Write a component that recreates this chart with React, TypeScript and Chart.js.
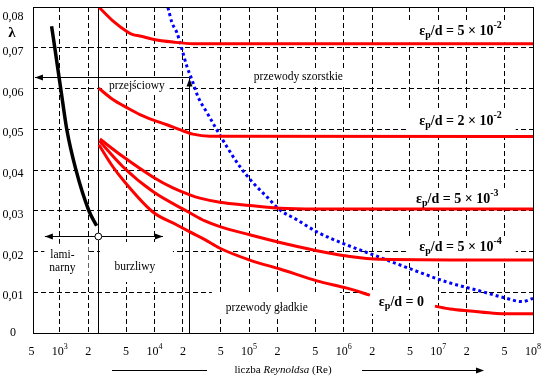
import React, { useEffect, useRef } from "react";
import { Chart, registerables } from "chart.js";

Chart.register(...registerables);

// ---------- axis ticks ----------
const xTickValues = [500, 1e3, 2e3, 5e3, 1e4, 2e4, 5e4, 1e5, 2e5, 5e5, 1e6, 2e6, 5e6, 1e7, 2e7, 5e7, 1e8];
const xTickLabels = ["5", "10^3", "2", "5", "10^4", "2", "5", "10^5", "2", "5", "10^6", "2", "5", "10^7", "2", "5", "10^8"];
const yTickValues = [0, 0.01, 0.02, 0.03, 0.04, 0.05, 0.06, 0.07, 0.08];
const yTickLabels = ["0", "0,01", "0,02", "0,03", "0,04", "0,05", "0,06", "0,07", "0,08"];

// ---------- series (Re, lambda) ----------
const laminarRe = [817, 886, 1025, 1186, 1476, 2026, 2444];
const laminarLambda = [0.0753, 0.0698, 0.0597, 0.0498, 0.0401, 0.03, 0.0263];

const eps5e2Re = [2580, 3630, 5100, 5920, 7000, 9600, 15700, 25500, 1e8];
const eps5e2Lambda = [0.08, 0.0766, 0.074, 0.0732, 0.0729, 0.0721, 0.0714, 0.071, 0.071];

const eps2e2Re = [2564, 3631, 5105, 7015, 9617, 13520, 18530, 25470, 38520, 1e8];
const eps2e2Lambda = [0.0601, 0.0573, 0.0553, 0.0536, 0.0523, 0.0511, 0.0499, 0.0488, 0.0483, 0.0482];

const eps5e3Re = [2650, 4634, 9617, 15660, 23650, 30200, 49100, 101800, 211600, 521000, 1e8];
const eps5e3Lambda = [0.0476, 0.0433, 0.0383, 0.0356, 0.0339, 0.0331, 0.0321, 0.0313, 0.0306, 0.0304, 0.0304];

const eps5e4Re = [2615, 4634, 9617, 23650, 34100, 49100, 101800, 211600, 521000, 1081000, 2415000, 1e8];
const eps5e4Lambda = [0.0471, 0.0408, 0.0347, 0.0295, 0.0275, 0.0261, 0.0241, 0.0222, 0.0202, 0.0189, 0.0181, 0.0179];

const smoothReA = [2583, 3631, 4634, 9617, 17260, 23650, 34100, 49100, 101800, 211600, 521000, 1081000, 1892000];
const smoothLambdaA = [0.0462, 0.0408, 0.0376, 0.0297, 0.0265, 0.0248, 0.0229, 0.0208, 0.0179, 0.0157, 0.0128, 0.011, 0.0093];
const smoothReB = [9.2e6, 1.33e7, 2.16e7, 4.16e7, 1e8];
const smoothLambdaB = [0.0066, 0.0059, 0.0054, 0.0048, 0.0047];

const boundaryRe = [13860, 15280, 17260, 19500, 22000, 24840, 28770, 35800, 46800, 58200, 80000, 109700, 154200, 211600, 320000, 521000, 1081000, 2036000, 5387000, 12330000, 27540000, 50600000, 76560000, 1e8];
const boundaryLambda = [0.0799, 0.0762, 0.0737, 0.0696, 0.0654, 0.0622, 0.058, 0.0541, 0.0494, 0.0457, 0.0408, 0.0369, 0.0334, 0.0302, 0.0278, 0.0248, 0.0216, 0.0192, 0.0155, 0.0125, 0.0103, 0.0086, 0.0077, 0.0085];

// ---------- labels ----------
const epsMantissas = ["5", "2", "5", "5", "0"];
const epsExponents = ["-2", "-2", "-3", "-4", ""];
const regionTexts = ["przejściowy", "przewody szorstkie", "przewody gładkie", "lami-", "narny", "burzliwy"];

// annotation anchors (data coordinates)
const RE_CRIT = 2550;
const RE_TRANS = 23300;
const LAMBDA_ARROW = 0.0629;
const RE_ARROW_LEFT = 545;
const LAMBDA_REGIME = 0.0237;
const RE_REGIME_LEFT = 694;
const RE_REGIME_RIGHT = 12280;
const regionAnchorRe = [6517, 331700, 154000, 1063, 1063, 6210];
const regionAnchorLambda = [0.0607, 0.0629, 0.00614, 0.0192, 0.016, 0.0162];
const epsAnchorRe = [1.712e7, 1.712e7, 1.585e7, 1.712e7, 4.07e6];
const epsAnchorLambda = [0.074, 0.0519, 0.0329, 0.0209, 0.0076];

const SERIF = "'Liberation Serif', 'Times New Roman', Times, serif";
const RED = "#ff0000";

const pts = (xs: number[], ys: number[]) => xs.map((x, i) => ({ x, y: ys[i] }));

type Part = { t: string; f: string; dy: number };

function partsWidth(ctx: CanvasRenderingContext2D, parts: Part[]) {
  let w = 0;
  for (const p of parts) {
    ctx.font = p.f;
    w += ctx.measureText(p.t).width;
  }
  return w;
}

function drawParts(ctx: CanvasRenderingContext2D, parts: Part[], cx: number, cy: number) {
  const w = partsWidth(ctx, parts);
  let x = cx - w / 2;
  ctx.textAlign = "left";
  ctx.textBaseline = "middle";
  for (const p of parts) {
    ctx.font = p.f;
    ctx.fillText(p.t, x, cy + p.dy);
    x += ctx.measureText(p.t).width;
  }
  return w;
}

function epsParts(m: string, e: string): Part[] {
  const big = `bold 14px ${SERIF}`;
  const small = `bold 10px ${SERIF}`;
  const parts: Part[] = [
    { t: "ε", f: big, dy: 0 },
    { t: "p", f: small, dy: 4 },
  ];
  if (e) {
    parts.push({ t: "/d = " + m + " × 10", f: big, dy: 0 });
    parts.push({ t: e, f: small, dy: -6 });
  } else {
    parts.push({ t: "/d = " + m, f: big, dy: 0 });
  }
  return parts;
}

function head(ctx: CanvasRenderingContext2D, x: number, y: number, dx: number, dy: number, len = 8, half = 3) {
  const px = -dy, py = dx;
  ctx.beginPath();
  ctx.moveTo(x, y);
  ctx.lineTo(x - dx * len + px * half, y - dy * len + py * half);
  ctx.lineTo(x - dx * len - px * half, y - dy * len - py * half);
  ctx.closePath();
  ctx.fill();
}

const al = (v: number) => Math.round(v) + 0.5;

const annotationPlugin = {
  id: "moodyAnnotations",
  beforeDatasetsDraw(chart: any) {
    const { ctx, chartArea: ca, scales } = chart;
    const X = (v: number) => scales.x.getPixelForValue(v);
    const Y = (v: number) => scales.y.getPixelForValue(v);
    const fText = `11.5px ${SERIF}`;
    ctx.save();

    // white boxes behind labels
    ctx.fillStyle = "#fff";
    ctx.font = fText;
    const rc = regionTexts.map((t, i) => ({ t, x: X(regionAnchorRe[i]), y: Y(regionAnchorLambda[i]), w: ctx.measureText(t).width }));
    ctx.fillRect(rc[0].x - rc[0].w / 2 - 5, rc[0].y - 7, rc[0].w + 10, 14);
    ctx.fillRect(rc[1].x - rc[1].w / 2 - 5, rc[1].y - 8, rc[1].w + 10, 16);
    ctx.fillRect(rc[2].x - 55, rc[2].y - 16, 128, 26);
    ctx.fillRect(rc[3].x - 18, rc[3].y - 11, 44, 35);
    ctx.fillRect(rc[5].x - 35, rc[5].y - 25, 73, 40);
    const epsInfo = epsMantissas.map((m, i) => {
      const parts = epsParts(m, epsExponents[i]);
      return { parts, x: X(epsAnchorRe[i]), y: Y(epsAnchorLambda[i]), w: partsWidth(ctx, parts) };
    });
    ctx.fillStyle = "#fff";
    epsInfo.forEach((e, i) => {
      const h = i === 4 ? 24 : 22;
      ctx.fillRect(e.x - e.w / 2 - 13, e.y - h / 2, e.w + 27, h);
    });

    // solid lines & arrows
    ctx.strokeStyle = "#000";
    ctx.fillStyle = "#000";
    ctx.lineWidth = 1;
    ctx.setLineDash([]);
    const xc = al(X(RE_CRIT));
    ctx.beginPath();
    ctx.moveTo(xc, ca.top);
    ctx.lineTo(xc, ca.bottom);
    ctx.stroke();

    const xt = al(X(RE_TRANS));
    const ya = al(Y(LAMBDA_ARROW));
    const xl = X(RE_ARROW_LEFT);
    ctx.beginPath();
    ctx.moveTo(xt, ca.bottom);
    ctx.lineTo(xt, ya);
    ctx.moveTo(xt, ya);
    ctx.lineTo(xl, ya);
    ctx.stroke();
    head(ctx, xt, ya + 1, 0, -1, 8, 3);
    head(ctx, xl, ya, -1, 0, 8, 3);

    const yr = al(Y(LAMBDA_REGIME));
    const xr1 = X(RE_REGIME_LEFT);
    const xr2 = X(RE_REGIME_RIGHT);
    ctx.beginPath();
    ctx.moveTo(xr1, yr);
    ctx.lineTo(xr2, yr);
    ctx.stroke();
    head(ctx, xr1, yr, -1, 0, 8, 3);
    head(ctx, xr2, yr, 1, 0, 8, 3);

    // region texts
    ctx.fillStyle = "#000";
    ctx.font = fText;
    ctx.textAlign = "center";
    ctx.textBaseline = "middle";
    rc.forEach((r) => ctx.fillText(r.t, r.x, r.y));

    // epsilon labels
    epsInfo.forEach((e) => drawParts(ctx, e.parts, e.x, e.y));

    ctx.restore();
  },
  afterDatasetsDraw(chart: any) {
    const { ctx, chartArea: ca, scales } = chart;
    const X = (v: number) => scales.x.getPixelForValue(v);
    const Y = (v: number) => scales.y.getPixelForValue(v);
    ctx.save();
    // circle at critical Re
    ctx.beginPath();
    ctx.arc(X(RE_CRIT), al(Y(LAMBDA_REGIME)), 3.4, 0, Math.PI * 2);
    ctx.fillStyle = "#fff";
    ctx.fill();
    ctx.strokeStyle = "#000";
    ctx.lineWidth = 1;
    ctx.stroke();

    // frame
    ctx.strokeRect(al(ca.left), al(ca.top), Math.round(ca.right - ca.left), Math.round(ca.bottom - ca.top));

    // y tick labels
    ctx.fillStyle = "#000";
    ctx.font = `12px ${SERIF}`;
    ctx.textAlign = "center";
    ctx.textBaseline = "middle";
    yTickValues.forEach((v, i) => {
      let y = Y(v) + 4;
      y = Math.max(ca.top + 10, Math.min(ca.bottom, y));
      ctx.fillText(yTickLabels[i], 13, y);
    });

    // lambda symbol
    ctx.font = `bold 15px ${SERIF}`;
    ctx.fillText("λ", 12, 33);

    // x tick labels
    const ty = ca.bottom + 19;
    xTickValues.forEach((v, i) => {
      const lab = xTickLabels[i];
      const [base, exp] = lab.split("^");
      const parts: Part[] = [{ t: base, f: `12px ${SERIF}`, dy: 0 }];
      if (exp) parts.push({ t: exp, f: `8px ${SERIF}`, dy: -5 });
      drawParts(ctx, parts, X(v), ty);
    });

    // axis title with arrow
    const cx = (ca.left + ca.right) / 2;
    const ly = ca.bottom + 37;
    drawParts(
      ctx,
      [
        { t: "liczba ", f: `11px ${SERIF}`, dy: 0 },
        { t: "Reynoldsa", f: `italic 11px ${SERIF}`, dy: 0 },
        { t: " (Re)", f: `11px ${SERIF}`, dy: 0 },
      ],
      cx,
      ly
    );
    const lyl = al(ly);
    ctx.beginPath();
    ctx.moveTo(cx - 171, lyl);
    ctx.lineTo(cx - 76, lyl);
    ctx.moveTo(cx + 79, lyl);
    ctx.lineTo(cx + 198, lyl);
    ctx.stroke();
    head(ctx, cx + 201, lyl, 1, 0, 8, 3);
    ctx.restore();
  },
};

export default function App() {
  const canvasRef = useRef<HTMLCanvasElement | null>(null);

  useEffect(() => {
    document.body.style.margin = "0";
    const canvas = canvasRef.current;
    if (!canvas) return;
    const lineDs = (label: string, xs: number[], ys: number[], color: string, width: number, dash: number[] = []) => ({
      label,
      data: pts(xs, ys),
      borderColor: color,
      backgroundColor: color,
      borderWidth: width,
      borderDash: dash,
      pointRadius: 0,
      fill: false,
      cubicInterpolationMode: "monotone" as const,
    });
    const chart = new Chart(canvas, {
      type: "line",
      data: {
        datasets: [
          lineDs("laminarny", laminarRe, laminarLambda, "#000", 3.5),
          lineDs("5e-2", eps5e2Re, eps5e2Lambda, RED, 3),
          lineDs("2e-2", eps2e2Re, eps2e2Lambda, RED, 3),
          lineDs("5e-3", eps5e3Re, eps5e3Lambda, RED, 3),
          lineDs("5e-4", eps5e4Re, eps5e4Lambda, RED, 3),
          lineDs("0a", smoothReA, smoothLambdaA, RED, 3),
          lineDs("0b", smoothReB, smoothLambdaB, RED, 3),
          lineDs("granica", boundaryRe, boundaryLambda, "#0000ff", 3, [3, 3]),
        ] as any,
      },
      options: {
        animation: false,
        responsive: true,
        maintainAspectRatio: false,
        layout: { padding: { left: 33, right: 15, top: 7, bottom: 52 } },
        plugins: { legend: { display: false }, tooltip: { enabled: false } },
        scales: {
          x: {
            type: "logarithmic",
            min: 520,
            max: 1e8,
            afterBuildTicks: (s: any) => {
              s.ticks = xTickValues.filter((v) => v > 520 && v < 1e8).map((v) => ({ value: v }));
            },
            ticks: { display: false },
            grid: { color: "#000", lineWidth: 1, drawTicks: false },
            border: { display: false, dash: [5, 3] },
          },
          y: {
            type: "linear",
            min: 0,
            max: 0.08,
            afterBuildTicks: (s: any) => {
              s.ticks = yTickValues.filter((v) => v > 0 && v < 0.08).map((v) => ({ value: v }));
            },
            ticks: { display: false },
            grid: { color: "#000", lineWidth: 1, drawTicks: false },
            border: { display: false, dash: [5, 3] },
          },
        },
      } as any,
      plugins: [annotationPlugin],
    });
    return () => chart.destroy();
  }, []);

  return (
    <div style={{ width: 548, height: 385, position: "relative", background: "#fff" }}>
      <canvas ref={canvasRef} />
    </div>
  );
}
